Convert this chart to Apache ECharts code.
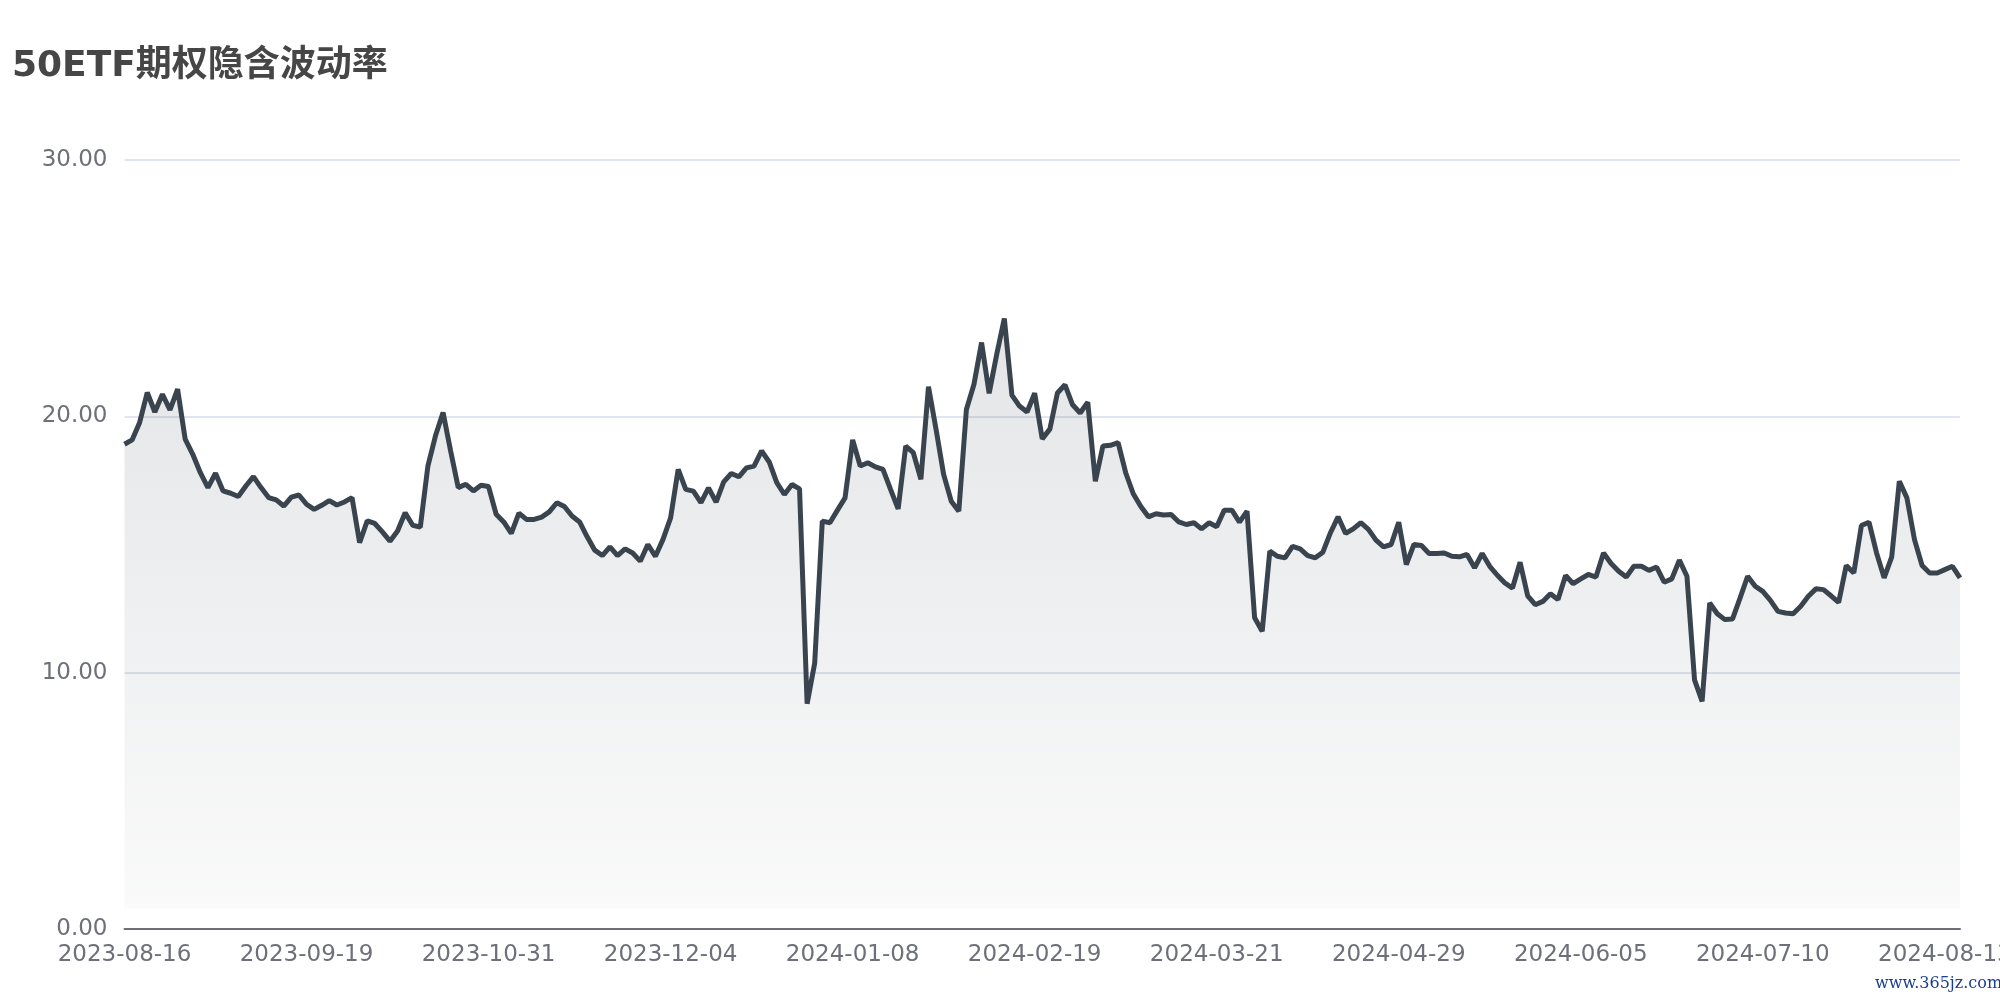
<!DOCTYPE html>
<html>
<head>
<meta charset="utf-8">
<script src="https://cdn.jsdelivr.net/npm/echarts@6/dist/echarts.min.js"></script>
<style>
html,body{margin:0;padding:0;background:#fff;}
#chart{width:2000px;height:1000px;}
</style>
</head>
<body>
<div id="chart"></div>
<script>
const titleText = '50ETF期权隐含波动率';
const watermarkText = 'www.365jz.com';

const months2023 = {
  '2023-08': ['16','17','18','21','22','23','24','25','28','29','30','31'],
  '2023-09': ['01','04','05','06','07','08','11','12','13','14','15','18','19','20','21','22','25','26','27','28'],
  '2023-10': ['09','10','11','12','13','16','17','18','19','20','23','24','25','26','27','30','31'],
  '2023-11': ['01','02','03','06','07','08','09','10','13','14','15','16','17','20','21','22','23','24','27','28','29','30'],
  '2023-12': ['01','04','05','06','07','08','11','12','13','14','15','18','19','20','21','22','25','26','27','28','29']
};
const months2024 = {
  '2024-01': ['02','03','04','05','08','09','10','11','12','15','16','17','18','19','22','23','24','25','26','29','30','31'],
  '2024-02': ['01','02','05','06','07','08','19','20','21','22','23','26','27','28','29'],
  '2024-03': ['01','02','04','05','06','07','08','11','12','13','14','15','18','19','20','21','25','26','27','28','29'],
  '2024-04': ['01','02','03','08','09','10','11','12','15','16','17','18','19','22','23','24','25','26','29','30'],
  '2024-05': ['06','07','08','09','10','13','14','15','16','17','20','21','22','23','24','27','28','29','30','31'],
  '2024-06': ['03','04','05','06','07','11','12','13','14','17','18','19','20','21','24','25','26','27','28'],
  '2024-07': ['01','02','03','04','05','08','09','10','11','12','15','16','17','18','19','22','23','24','25','26','29','30','31'],
  '2024-08': ['01','02','05','06','07','08','09','12','13','14','15']
};
const dates = [];
[months2023, months2024].forEach(function (m) {
  Object.keys(m).forEach(function (k) { m[k].forEach(function (d) { dates.push(k + '-' + d); }); });
});

const ivValues = [
  18.91,19.08,19.76,20.93,20.17,20.86,20.25,21.06,19.11,18.52,
  17.80,17.22,17.78,17.09,17.00,16.87,17.28,17.65,17.22,16.83,
  16.74,16.50,16.85,16.93,16.57,16.37,16.53,16.71,16.54,16.66,
  16.83,15.07,15.92,15.82,15.49,15.13,15.53,16.24,15.75,15.68,
  18.06,19.24,20.15,18.65,17.22,17.35,17.09,17.31,17.26,16.18,
  15.88,15.43,16.22,15.98,15.98,16.07,16.27,16.63,16.48,16.11,
  15.88,15.30,14.78,14.57,14.91,14.57,14.83,14.67,14.35,15.00,
  14.54,15.20,16.04,17.93,17.15,17.08,16.63,17.21,16.65,17.44,
  17.77,17.64,17.99,18.06,18.65,18.22,17.41,16.95,17.34,17.17,
  8.79,10.38,15.91,15.85,16.34,16.82,19.08,18.06,18.19,18.03,
  17.93,17.15,16.39,18.84,18.58,17.54,21.16,19.49,17.73,16.69,
  16.30,20.27,21.25,22.88,20.90,22.42,23.82,20.83,20.40,20.17,
  20.90,19.12,19.50,20.91,21.23,20.45,20.13,20.55,17.47,18.84,
  18.87,18.97,17.80,16.98,16.48,16.08,16.20,16.15,16.17,15.88,
  15.78,15.85,15.61,15.85,15.69,16.34,16.34,15.87,16.30,12.14,
  11.62,14.74,14.54,14.48,14.93,14.83,14.57,14.48,14.70,15.46,
  16.08,15.43,15.61,15.85,15.59,15.17,14.91,15.00,15.87,14.22,
  15.00,14.96,14.65,14.65,14.67,14.54,14.52,14.61,14.09,14.65,
  14.15,13.80,13.50,13.30,14.31,13.00,12.65,12.78,13.08,12.85,
  13.79,13.47,13.66,13.83,13.73,14.67,14.26,13.96,13.73,14.15,
  14.15,13.99,14.12,13.53,13.66,14.39,13.76,9.72,8.88,12.72,
  12.30,12.07,12.09,12.91,13.76,13.37,13.17,12.82,12.39,12.33,
  12.30,12.59,12.98,13.27,13.24,13.00,12.74,14.18,13.89,15.74,
  15.87,14.67,13.70,14.52,17.47,16.82,15.19,14.18,13.89,13.89,
  14.02,14.15,13.70
];

const yMin = 0, yMax = 30, yStep = 10;
const labelEvery = 24;

const chart = echarts.init(document.getElementById('chart'), null, {renderer: 'canvas'});
const fontFam = '"DejaVu Sans", "Noto Sans CJK SC", sans-serif';
chart.setOption({
  animation: false,
  backgroundColor: '#ffffff',
  title: {
    text: titleText,
    left: 12, top: 49, padding: 0,
    textStyle: {fontSize: 36, fontWeight: 'bold', color: '#464646', fontFamily: fontFam}
  },
  grid: {left: 124.5, right: 40, top: 160, bottom: 71, containLabel: false, outerBoundsMode: 'none'},
  xAxis: {
    type: 'category',
    boundaryGap: false,
    data: dates,
    axisLine: {lineStyle: {color: '#6E7079', width: 2}},
    axisTick: {show: false},
    axisLabel: {
      color: '#6E7079', fontSize: 23, fontFamily: fontFam, margin: 15,
      hideOverlap: false,
      interval: function (index) { return index % labelEvery === 0; }
    }
  },
  yAxis: {
    type: 'value',
    min: yMin, max: yMax, interval: yStep,
    axisLine: {show: false},
    axisTick: {show: false},
    axisLabel: {color: '#6E7079', fontSize: 23, fontFamily: fontFam, margin: 17,
      formatter: function (v) { return v.toFixed(2); }},
    splitLine: {lineStyle: {color: '#E0E6F1', width: 2}}
  },
  series: [{
    type: 'line',
    data: ivValues,
    showSymbol: false,
    symbol: 'none',
    lineStyle: {color: '#3a444e', width: 5},
    itemStyle: {color: '#3a444e'},
    areaStyle: {
      color: new echarts.graphic.LinearGradient(0, 0, 0, 1, [
        {offset: 0, color: 'rgba(60,71,82,0.20)'},
        {offset: 0.966, color: 'rgba(60,71,82,0.04)'},
        {offset: 0.967, color: 'rgba(60,71,82,0)'},
        {offset: 1, color: 'rgba(60,71,82,0)'}
      ])
    }
  }],
  graphic: [{
    type: 'text', left: 1875, top: 976,
    style: {text: watermarkText, font: '16px "DejaVu Serif", serif', fill: '#1b3d8f'}
  }]
});
</script>
</body>
</html>
